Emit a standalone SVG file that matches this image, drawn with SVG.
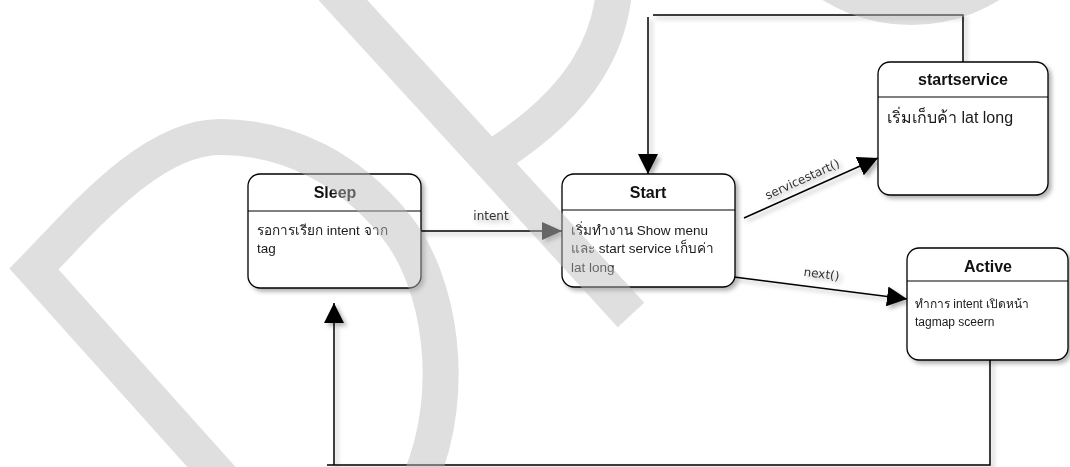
<svg xmlns="http://www.w3.org/2000/svg" width="1070" height="467" viewBox="0 0 1070 467">
  <style>
    .box { fill: #ffffff; stroke: #000000; stroke-width: 1.3; }
    .sep { stroke: #000000; stroke-width: 1.2; }
    .title { font-family: "Liberation Sans", "Noto Sans", Arial, sans-serif; font-weight: bold; font-size: 16px; fill: #111; text-anchor: middle; }
    .body { font-family: "Liberation Sans", "Noto Sans", "DejaVu Sans", sans-serif; fill: #1a1a1a; }
    .edge { fill: none; stroke: #000000; stroke-width: 1.5; }
    .lbl { font-family: "DejaVu Sans", "Liberation Sans", sans-serif; font-size: 12px; fill: #333; }
    .wm { fill: none; stroke: #bcbcbc; stroke-width: 36; stroke-linejoin: miter; stroke-linecap: butt; }
  </style>
  <defs>
    <filter id="shadow" filterUnits="userSpaceOnUse" x="0" y="0" width="1070" height="467">
      <feDropShadow dx="3" dy="3" stdDeviation="2" flood-color="#000" flood-opacity="0.3"/>
    </filter>
    <marker id="arrow" viewBox="0 0 20 20" refX="20" refY="10" markerWidth="20" markerHeight="20" markerUnits="userSpaceOnUse" orient="auto">
      <path d="M0,0 L20,10 L0,20 Z" fill="#000000"/>
    </marker>
    <marker id="arrowGrey" viewBox="0 0 20 18" refX="20" refY="9" markerWidth="20" markerHeight="18" markerUnits="userSpaceOnUse" orient="auto">
      <path d="M0,0 L20,9 L0,18 Z" fill="#1a1a1a"/>
    </marker>
  </defs>

  <rect x="0" y="0" width="1070" height="467" fill="#ffffff"/>

  <g id="connectors" filter="url(#shadow)">
    <path class="edge" d="M421,231 H562" marker-end="url(#arrowGrey)"/>
    <text class="lbl" x="491" y="220" text-anchor="middle">intent</text>
    <path class="edge" d="M744,218 L878,158" marker-end="url(#arrow)"/>
    <text class="lbl" x="0" y="0" text-anchor="middle" transform="translate(804,183) rotate(-24.5)">servicestart()</text>
    <path class="edge" d="M734,277 L907,299" marker-end="url(#arrow)"/>
    <text class="lbl" x="0" y="0" text-anchor="middle" transform="translate(821,278) rotate(7.5)">next()</text>
    <path class="edge" d="M963,62 V15 H653"/>
    <path class="edge" d="M648,17 V174" marker-end="url(#arrow)"/>
    <path class="edge" d="M990,360 V465 H327"/>
    <path class="edge" d="M334,465 V303" marker-end="url(#arrow)"/>
  </g>

  <g id="node-sleep">
    <rect class="box" x="248" y="174" width="173" height="114" rx="12" filter="url(#shadow)"/>
    <line class="sep" x1="248" y1="211" x2="421" y2="211"/>
    <text class="title" x="335" y="198">Sleep</text>
    <text class="body" font-size="13.5" x="257" y="235">รอการเรียก intent จาก</text>
    <text class="body" font-size="13.5" x="257" y="253">tag</text>
  </g>

  <g id="node-start">
    <rect class="box" x="562" y="174" width="173" height="113" rx="12" filter="url(#shadow)"/>
    <line class="sep" x1="562" y1="210" x2="735" y2="210"/>
    <text class="title" x="648" y="198">Start</text>
    <text class="body" font-size="13.5" x="571" y="235">เริ่มทำงาน Show menu</text>
    <text class="body" font-size="13.5" x="571" y="253">และ start service เก็บค่า</text>
    <text class="body" font-size="13.5" x="571" y="272">lat long</text>
  </g>

  <g id="node-startservice">
    <rect class="box" x="878" y="62" width="170" height="133" rx="12" filter="url(#shadow)"/>
    <line class="sep" x1="878" y1="97" x2="1048" y2="97"/>
    <text class="title" x="963" y="85" font-size="17">startservice</text>
    <text class="body" font-size="16" x="887" y="123">เริ่มเก็บค้า lat long</text>
  </g>

  <g id="node-active">
    <rect class="box" x="907" y="248" width="161" height="112" rx="12" filter="url(#shadow)"/>
    <line class="sep" x1="907" y1="281" x2="1068" y2="281"/>
    <text class="title" x="988" y="272">Active</text>
    <text class="body" font-size="12" x="915" y="308">ทำการ intent เปิดหน้า</text>
    <text class="body" font-size="12" x="915" y="326">tagmap sceern</text>
  </g>

  <g id="watermark" opacity="0.47">
    <path class="wm" d="M224,481 L34,269 C80,222 150,137 220,137 C290,137 350,170 395,225 C440,280 458,390 420,480"/>
    <path class="wm" d="M330,-14 L631,315"/>
    <path class="wm" d="M615,-20 C612,40 585,100 489,160"/>
    <circle class="wm" cx="911" cy="-144" r="151"/>
  </g>
</svg>
